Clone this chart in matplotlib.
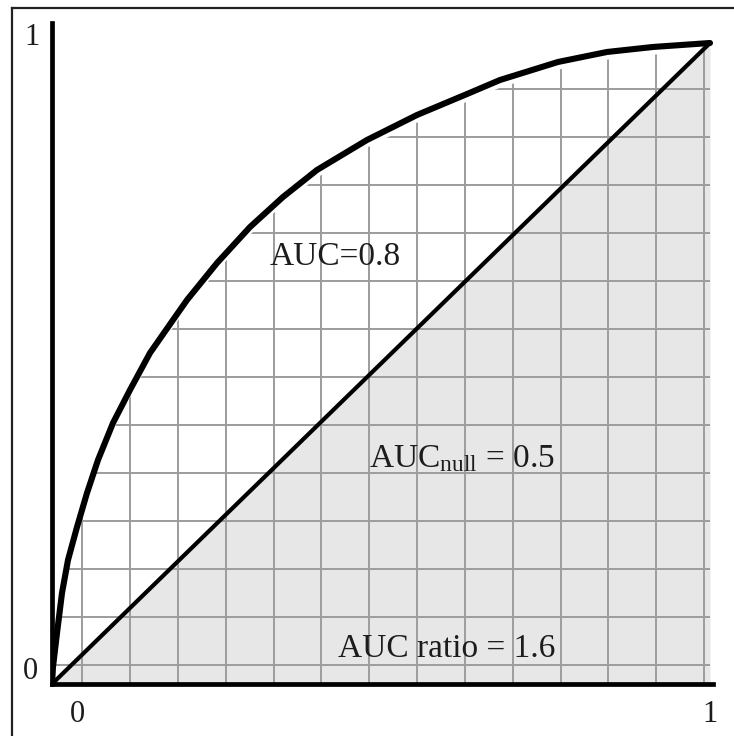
import numpy as np
import matplotlib
matplotlib.use("Agg")
import matplotlib.pyplot as plt
from matplotlib.patches import Polygon
from matplotlib.lines import Line2D

plt.rcParams["font.family"] = ["Liberation Serif", "DejaVu Serif"]
plt.rcParams["mathtext.fontset"] = "custom"
plt.rcParams["mathtext.rm"] = "Liberation Serif"
plt.rcParams["mathtext.it"] = "Liberation Serif:italic"

# ROC curve (false positive rate, true positive rate)
fpr = [0.0, 0.0015, 0.0076, 0.0152, 0.0243, 0.0380, 0.0532, 0.0699, 0.0927,
       0.1185, 0.1489, 0.1839, 0.2052, 0.2508, 0.3009, 0.3511, 0.4027, 0.4787,
       0.5547, 0.6307, 0.6809, 0.7690, 0.8435, 0.9134, 1.0]
tpr = [0.0, 0.0265, 0.0796, 0.1420, 0.1934, 0.2449, 0.2980, 0.3495, 0.4072,
       0.4587, 0.5164, 0.5679, 0.5991, 0.6568, 0.7129, 0.7598, 0.8019, 0.8487,
       0.8877, 0.9204, 0.9423, 0.9704, 0.9860, 0.9938, 1.0]

# chance line
null_x = [0.0, 1.0]
null_y = [0.0, 1.0]

auc_label = "AUC=0.8"
null_label = r"AUC$_{\mathrm{null}}$ = 0.5"
ratio_label = "AUC ratio = 1.6"

fig = plt.figure(figsize=(7.34, 7.36), dpi=100)
ax = fig.add_axes([52 / 734, 1 - 684 / 736, 661 / 734, 661 / 736])
ax.set_xlim(0, 661 / 658)
ax.set_ylim(0, 661 / 641)

# shaded area under the chance line
ax.fill_between(null_x, 0, null_y, color="#e7e7e7", lw=0, zorder=1)

# grid only inside the area under the ROC curve, kept a little below it
gap = 0.012
under = Polygon([(0.0, 0.0)] + [(x, max(y - gap, 0)) for x, y in zip(fpr, tpr)]
                + [(1.0, 0.0)], closed=True, transform=ax.transData)
gx = 0.046 + 0.0727 * np.arange(14)
gy = 0.030 + 0.0748 * np.arange(13)
vl = ax.vlines(gx, 0, 1, colors="#9c9c9c", lw=1.4, zorder=2)
hl = ax.hlines(gy, 0, 1, colors="#9c9c9c", lw=1.4, zorder=2)
vl.set_clip_path(under)
hl.set_clip_path(under)

ax.plot(null_x, null_y, color="black", lw=3.0, solid_capstyle="round", zorder=3)
ax.plot(fpr, tpr, color="black", lw=4.4, solid_joinstyle="round",
        solid_capstyle="round", zorder=4)

for s in ["top", "right"]:
    ax.spines[s].set_visible(False)
for s in ["left", "bottom"]:
    ax.spines[s].set_linewidth(3.4)
    ax.spines[s].set_zorder(5)
ax.set_xticks([])
ax.set_yticks([])

txt = dict(color="#1c1c1c", fontsize=24, va="baseline", ha="left", zorder=6)
ax.text(0.331, 0.654, auc_label, **txt)
ax.text(0.482, 0.339, null_label, **txt)
ax.text(0.435, 0.042, ratio_label, **txt)

lab = dict(color="#1c1c1c", fontsize=22, va="center", ha="center", clip_on=False)
ax.text(-0.030, 1.008, "1", **lab)
ax.text(-0.033, 0.019, "0", **lab)
ax.text(0.038, -0.048, "0", **lab)
ax.text(1.0, -0.048, "1", **lab)

# frame on the left and top edges
fig.add_artist(Line2D([12 / 734, 12 / 734], [0, 1 - 8 / 736],
                      transform=fig.transFigure, color="#222222", lw=1.6))
fig.add_artist(Line2D([12 / 734, 1], [1 - 8 / 736, 1 - 8 / 736],
                      transform=fig.transFigure, color="#222222", lw=1.6))

fig.savefig("out.png", dpi=100)
